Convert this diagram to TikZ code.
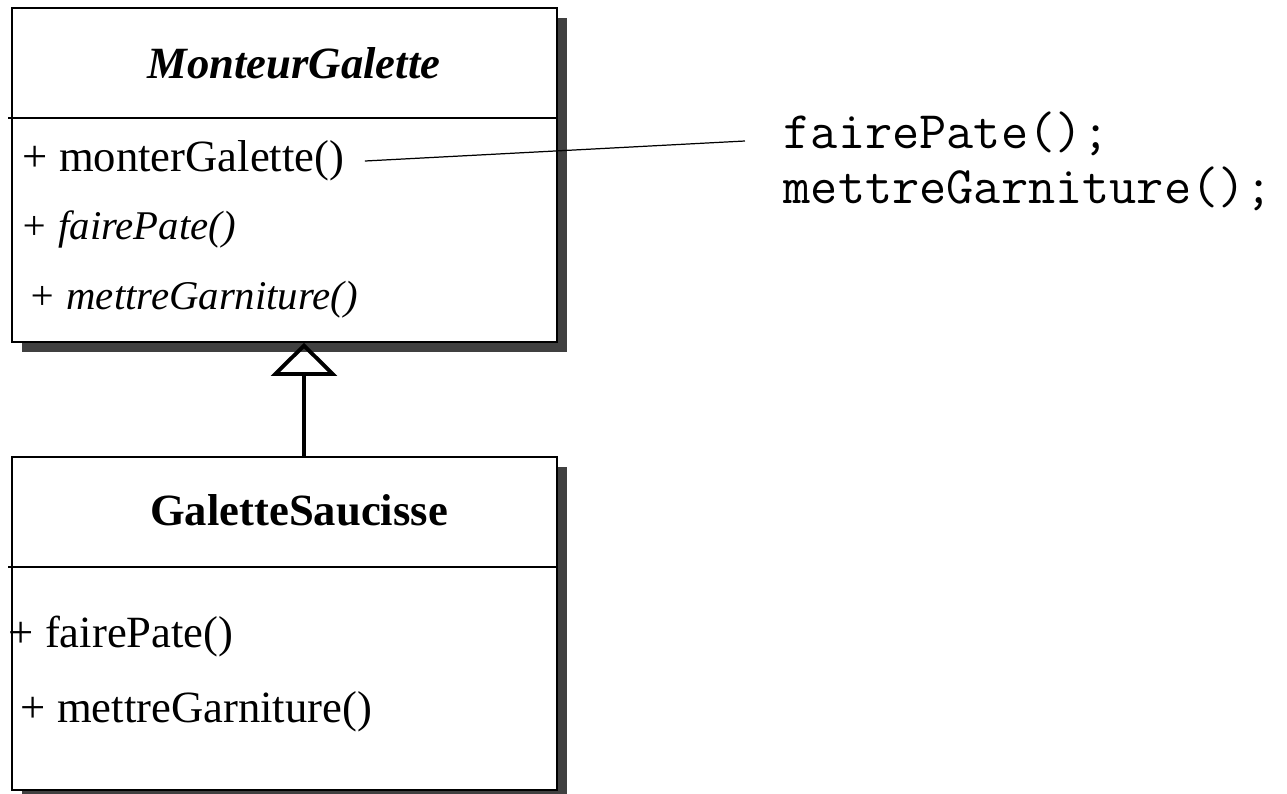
\documentclass[tikz,border=0pt]{standalone}
\usepackage{fontspec}
\setmainfont{Liberation Serif}
\usetikzlibrary{arrows.meta,shadows}
\definecolor{shadowgray}{RGB}{64,64,64}
\tikzset{
  classbox/.style={draw, fill=white, line width=0.45pt, inner sep=0pt, minimum width=5.45cm,
    drop shadow={shadow xshift=0.1cm, shadow yshift=-0.1cm, fill=shadowgray, opacity=1}},
  classname/.style={font=\fontsize{12.7}{15}\selectfont\bfseries},
  abstractname/.style={font=\fontsize{12.7}{15}\selectfont\bfseries\itshape},
  op/.style={anchor=west, inner sep=0pt, font=\fontsize{12.7}{15}\selectfont},
  absop/.style={op, font=\fontsize{11.6}{15}\selectfont\itshape},
  code/.style={anchor=west, align=left, inner sep=0pt, font=\fontsize{15}{15.65}\selectfont\ttfamily},
  generalize/.style={-{Triangle[open,length=0.33cm,width=0.66cm]}, line width=1.1pt},
  note/.style={line width=0.35pt}}

\begin{document}
\begin{tikzpicture}[x=0.01cm, y=-0.01cm]
\useasboundingbox (0,0) rectangle (1287,793);

% the two classes
\node[classbox, minimum height=3.34cm] (mg) at (284.5,175) {};
\node[classbox, minimum height=3.33cm] (gs) at (284.5,623.5) {};

\coordinate (div1) at (8,118) ;
\coordinate (div2) at (8,567) ;
\draw [line width=0.45pt](div1)--(div1 -| mg.east);
\draw [line width=0.45pt](div2)--(div2 -| gs.east);

% MonteurGalette
\node[abstractname] (mgname) at (294,63) {MonteurGalette};
\node[op] (mgop) at (22,161) {+ monterGalette()};
\node[absop] (mgpate) at (20,229) {+ fairePate()};
\node[absop] (mggarn) at (28,300) {+ mettreGarniture()};

% GaletteSaucisse
\node[classname] (gsname) at (299,510) {GaletteSaucisse};
\node[op] (gspate) at (8,637) {+ fairePate()};
\node[op] (gsgarn) at (20,712) {+ mettreGarniture()};

% body of monterGalette
\node[code] (code) at (783,161) {fairePate();\\mettreGarniture();};
\draw [note]([xshift=0.2cm]mgop.east)--([xshift=-0.38cm,yshift=0.2cm]code.west);

% inheritance
\coordinate (gen) at (304,400) ;
\draw [generalize](gen |- gs.north)--(gen |- mg.south);
\end{tikzpicture}
\end{document}
